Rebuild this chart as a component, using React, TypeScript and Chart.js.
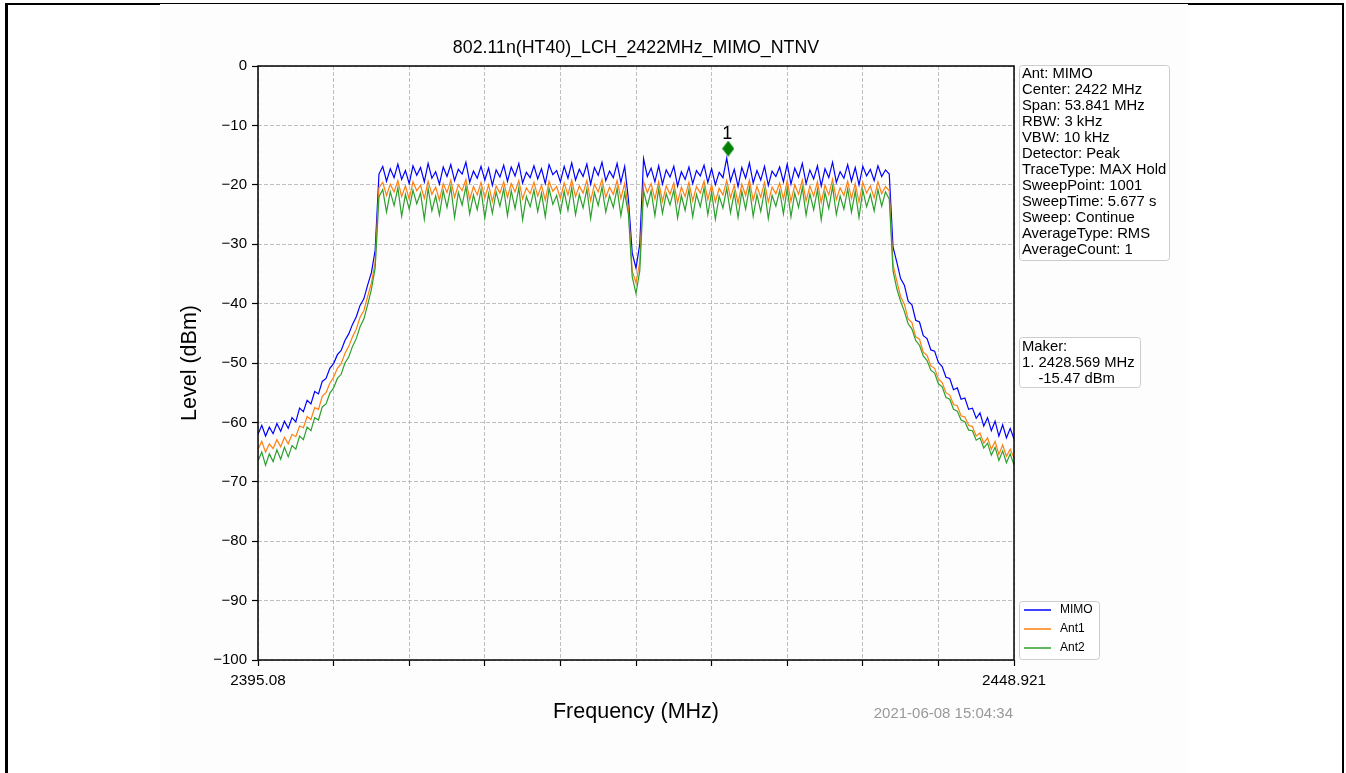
import { useEffect, useRef } from 'react';
import { Chart, registerables } from 'chart.js';

Chart.register(...registerables);

const FONT_FAMILY = "'Liberation Sans', Arial, Helvetica, sans-serif";

const CHART_TITLE = '802.11n(HT40)_LCH_2422MHz_MIMO_NTNV';
const X_TITLE = 'Frequency (MHz)';
const Y_TITLE = 'Level (dBm)';
const TIMESTAMP = '2021-06-08 15:04:34';

const FREQ_START = 2395.08;
const FREQ_STOP = 2448.921;
const X_DIVISIONS = 10;
const X_TICK_LABELS = ['2395.08', '2448.921'];
const Y_MIN = -100;
const Y_MAX = 0;
const Y_STEP = 10;

const SERIES_NAMES = ['MIMO', 'Ant1', 'Ant2'];
const SERIES_COLORS = ['#0000ff', '#ff7f0e', '#2ca02c'];

// Levels (dBm), evenly spaced across the sweep span
const MIMO_LEVELS = [
  // left skirt
  -62.0, -60.5, -62.3, -60.8, -61.9, -60.2, -61.5, -59.8, -61.0, -59.2,
  -59.9, -57.6, -58.2, -56.3, -56.9, -54.8, -55.2, -53.1, -52.6, -50.9,
  -50.1, -48.6, -47.9, -46.2, -45.1, -43.5, -42.2, -40.3, -39.2, -36.9,
  -34.8, -31.0,
  // left half of channel
  -18.2, -16.9, -19.4, -17.3, -18.8, -16.5, -19.1, -17.6, -19.8, -16.8,
  -18.4, -17.1, -19.5, -16.4, -18.9, -17.8, -19.9, -17.0, -18.6, -16.6,
  -19.3, -17.4, -18.2, -16.2, -19.6, -17.7, -18.9, -16.9, -19.2, -17.2,
  -20.1, -17.5, -18.7, -16.7, -19.4, -17.0, -18.5, -16.4, -19.7, -17.9,
  -18.8, -16.8, -19.0, -17.3, -19.8, -16.6, -18.3, -17.6, -19.5, -16.9,
  -18.9, -16.3, -19.2, -17.4, -18.6, -16.5, -19.9, -17.1, -18.4, -16.2,
  -19.3, -17.7, -18.8, -16.4, -19.6, -16.9,
  // centre dip
  -22.5, -31.5, -34.0, -30.0, -15.6,
  // right half of channel
  -18.6, -17.2, -19.5, -16.8, -19.9, -17.5, -18.7, -16.9, -20.2, -17.8,
  -19.1, -17.0, -19.8, -17.6, -18.5, -16.7, -19.6, -17.3, -20.0, -17.9,
  -18.8, -15.5, -19.4, -17.4, -20.3, -17.1, -18.9, -16.3, -19.7, -17.6,
  -19.2, -16.9, -20.1, -17.7, -18.6, -17.0, -19.5, -16.5, -19.9, -17.2,
  -18.7, -16.4, -19.8, -17.5, -19.0, -16.8, -20.2, -17.3, -18.8, -16.2,
  -19.6, -17.8, -18.9, -16.6, -19.4, -17.1, -20.0, -16.9, -18.5, -17.4,
  -19.3, -16.8, -18.6, -17.5, -18.2,
  // right skirt
  -30.5, -33.0, -35.8, -36.9, -39.6, -40.2, -42.8, -43.1, -45.4, -45.9,
  -47.8, -48.0, -49.9, -50.6, -52.4, -52.6, -54.5, -54.2, -56.1, -55.9,
  -57.8, -57.6, -59.3, -58.4, -60.6, -59.2, -61.4, -59.8, -62.3, -60.4,
  -62.6, -61.0, -62.8,
];

const ANT1_LEVELS = [
  -64.5, -63.2, -65.0, -63.6, -64.4, -62.9, -64.1, -62.5, -63.6, -62.0,
  -62.4, -60.6, -60.9, -59.0, -59.5, -57.5, -57.8, -55.6, -55.0, -53.4,
  -52.4, -50.9, -50.1, -48.4, -47.2, -45.6, -44.3, -42.3, -41.2, -38.8,
  -36.5, -33.0,
  -20.5, -19.6, -21.8, -19.9, -21.2, -19.3, -22.0, -20.2, -22.4, -19.5,
  -21.0, -20.1, -22.3, -19.4, -21.6, -20.4, -22.6, -19.8, -21.3, -19.2,
  -22.1, -20.0, -21.0, -19.1, -22.5, -20.3, -21.7, -19.6, -22.2, -20.0,
  -22.8, -20.2, -21.4, -19.5, -22.1, -19.8, -21.2, -19.3, -22.4, -20.5,
  -21.5, -19.6, -21.9, -20.1, -22.6, -19.4, -21.1, -20.3, -22.3, -19.7,
  -21.7, -19.2, -22.0, -20.2, -21.4, -19.3, -22.7, -19.9, -21.2, -19.1,
  -22.1, -20.4, -21.6, -19.3, -22.3, -19.8,
  -24.0, -34.5, -36.5, -33.0, -19.5,
  -21.3, -19.8, -22.4, -19.5, -22.8, -20.2, -21.6, -19.7, -23.0, -20.4,
  -22.0, -19.6, -22.7, -20.3, -21.4, -19.4, -22.5, -20.0, -22.9, -20.6,
  -21.7, -19.3, -22.2, -20.1, -23.1, -19.9, -21.8, -19.2, -22.6, -20.3,
  -22.1, -19.6, -22.9, -20.4, -21.5, -19.7, -22.4, -19.3, -22.8, -20.0,
  -21.6, -19.2, -22.7, -20.2, -21.9, -19.5, -23.0, -20.1, -21.7, -19.1,
  -22.5, -20.5, -21.8, -19.4, -22.3, -19.8, -22.9, -19.6, -21.4, -20.2,
  -22.2, -19.5, -21.5, -20.3, -21.0,
  -33.5, -36.2, -38.8, -40.1, -42.6, -43.2, -45.6, -46.0, -48.2, -48.7,
  -50.5, -50.9, -52.7, -53.3, -55.0, -55.4, -57.0, -57.2, -58.9, -59.1,
  -60.5, -60.7, -62.3, -61.8, -63.5, -62.6, -64.5, -63.2, -65.4, -63.8,
  -65.7, -64.5, -66.0,
];

const ANT2_LEVELS = [
  -66.5, -65.0, -67.2, -65.3, -66.6, -64.6, -66.2, -64.2, -65.8, -63.9,
  -64.5, -62.3, -62.9, -60.8, -61.4, -59.2, -59.6, -57.4, -56.9, -55.1,
  -54.2, -52.6, -51.9, -50.0, -49.0, -47.2, -45.9, -43.9, -42.6, -40.2,
  -37.6, -34.0,
  -22.0, -20.8, -24.6, -21.2, -23.5, -20.5, -25.3, -21.6, -24.1, -20.9,
  -23.2, -21.4, -25.8, -20.6, -24.4, -21.9, -25.1, -21.0, -23.8, -20.4,
  -25.5, -21.3, -23.4, -20.3, -24.9, -21.7, -24.2, -20.8, -25.6, -21.5,
  -24.8, -21.2, -23.6, -20.7, -25.2, -21.0, -24.0, -20.5, -25.9, -22.0,
  -23.7, -20.9, -24.5, -21.4, -25.4, -20.6, -23.3, -21.8, -24.7, -21.1,
  -24.3, -20.5, -25.0, -21.6, -23.9, -20.7, -25.7, -21.3, -23.5, -20.4,
  -24.6, -21.8, -23.8, -20.6, -25.2, -21.4,
  -25.0, -35.5, -38.3, -34.5, -21.0,
  -23.6, -21.0, -25.2, -20.7, -24.8, -21.5, -23.4, -20.9, -25.6, -21.8,
  -24.3, -20.8, -25.4, -21.6, -23.7, -20.5, -25.0, -21.2, -25.8, -21.9,
  -23.9, -20.6, -24.7, -21.3, -25.5, -21.1, -24.1, -20.4, -25.3, -21.7,
  -24.5, -20.9, -25.7, -21.8, -23.6, -21.0, -24.9, -20.6, -25.4, -21.4,
  -23.8, -20.5, -25.1, -21.5, -24.2, -20.8, -25.9, -21.3, -24.0, -20.3,
  -25.0, -21.9, -24.1, -20.7, -24.6, -21.1, -25.5, -20.9, -23.7, -21.6,
  -24.4, -20.8, -23.6, -21.2, -22.4,
  -34.5, -37.5, -39.6, -41.3, -43.4, -44.3, -46.2, -47.0, -48.8, -49.6,
  -51.2, -51.7, -53.5, -54.0, -55.8, -56.1, -57.8, -58.1, -59.6, -59.9,
  -61.3, -61.4, -63.0, -62.6, -64.3, -63.5, -65.5, -64.2, -66.4, -64.8,
  -66.8, -65.3, -67.2,
];

const MARKER_FREQ = 2428.569;
const MARKER_PLOT_LEVEL = -13.9;
const MARKER_LABEL = '1';
const MARKER_COLOR = '#008000';

const INFO_LINES = [
  'Ant: MIMO',
  'Center: 2422 MHz',
  'Span: 53.841 MHz',
  'RBW: 3 kHz',
  'VBW: 10 kHz',
  'Detector: Peak',
  'TraceType: MAX Hold',
  'SweepPoint: 1001',
  'SweepTime: 5.677 s',
  'Sweep: Continue',
  'AverageType: RMS',
  'AverageCount: 1',
];
const MAKER_LINES = ['Maker:', '1. 2428.569 MHz', '    -15.47 dBm'];

const CANVAS_W = 1028;
const CANVAS_H = 769;

function toPoints(levels: number[]) {
  const step = (FREQ_STOP - FREQ_START) / (levels.length - 1);
  return levels.map((y, i) => ({ x: FREQ_START + i * step, y }));
}

function roundRect(ctx: CanvasRenderingContext2D, x: number, y: number, w: number, h: number, r: number) {
  ctx.beginPath();
  ctx.moveTo(x + r, y);
  ctx.lineTo(x + w - r, y);
  ctx.arcTo(x + w, y, x + w, y + r, r);
  ctx.lineTo(x + w, y + h - r);
  ctx.arcTo(x + w, y + h, x + w - r, y + h, r);
  ctx.lineTo(x + r, y + h);
  ctx.arcTo(x, y + h, x, y + h - r, r);
  ctx.lineTo(x, y + r);
  ctx.arcTo(x, y, x + r, y, r);
  ctx.closePath();
}

const decorPlugin = {
  id: 'decor',
  afterDatasetsDraw(chart: any) {
    const { ctx, chartArea: ca, scales } = chart;
    ctx.save();
    // spines
    ctx.strokeStyle = '#000';
    ctx.lineWidth = 1.5;
    ctx.strokeRect(ca.left, ca.top, ca.right - ca.left, ca.bottom - ca.top);
    // marker label
    const mx = scales.x.getPixelForValue(MARKER_FREQ);
    const my = scales.y.getPixelForValue(MARKER_PLOT_LEVEL);
    ctx.fillStyle = '#000';
    ctx.font = `18px ${FONT_FAMILY}`;
    ctx.textAlign = 'center';
    ctx.textBaseline = 'middle';
    ctx.fillText(MARKER_LABEL, mx - 1, my - 15);
    ctx.restore();
  },
  afterDraw(chart: any) {
    const { ctx, chartArea: ca } = chart;
    ctx.save();
    // title
    ctx.fillStyle = '#000';
    ctx.font = `17.8px ${FONT_FAMILY}`;
    ctx.textAlign = 'center';
    ctx.textBaseline = 'middle';
    ctx.fillText(CHART_TITLE, (ca.left + ca.right) / 2, ca.top - 18);

    const bx = ca.right + 5;
    // info box
    ctx.lineWidth = 1;
    ctx.strokeStyle = '#cccccc';
    ctx.fillStyle = 'rgba(255,255,255,0.85)';
    roundRect(ctx, bx + 0.5, ca.top - 0.5, 150, 195, 3);
    ctx.fill();
    ctx.stroke();
    ctx.fillStyle = '#000';
    ctx.font = `14.8px ${FONT_FAMILY}`;
    ctx.textAlign = 'left';
    ctx.textBaseline = 'middle';
    INFO_LINES.forEach((line, i) => ctx.fillText(line, bx + 3, ca.top + 8 + i * 16));

    // maker box
    const my0 = ca.top + 271;
    ctx.fillStyle = 'rgba(255,255,255,0.85)';
    roundRect(ctx, bx + 0.5, my0 + 0.5, 121, 50, 3);
    ctx.fill();
    ctx.stroke();
    ctx.fillStyle = '#000';
    MAKER_LINES.forEach((line, i) => ctx.fillText(line, bx + 3, my0 + 10 + i * 16));

    // legend
    const ly0 = ca.bottom - 59;
    ctx.fillStyle = 'rgba(255,255,255,0.85)';
    roundRect(ctx, bx + 0.5, ly0 + 0.5, 80, 58, 3);
    ctx.fill();
    ctx.stroke();
    ctx.font = `12px ${FONT_FAMILY}`;
    SERIES_NAMES.forEach((name, i) => {
      const y = ly0 + 9 + i * 19;
      ctx.strokeStyle = SERIES_COLORS[i];
      ctx.lineWidth = 1.5;
      ctx.beginPath();
      ctx.moveTo(bx + 5, y);
      ctx.lineTo(bx + 32, y);
      ctx.stroke();
      ctx.fillStyle = '#000';
      ctx.fillText(name, bx + 41, y);
    });

    // timestamp
    ctx.fillStyle = '#999999';
    ctx.font = `15px ${FONT_FAMILY}`;
    ctx.textAlign = 'right';
    ctx.fillText(TIMESTAMP, ca.right - 1, ca.bottom + 54);
    ctx.restore();
  },
};

export default function App() {
  const canvasRef = useRef<HTMLCanvasElement | null>(null);

  useEffect(() => {
    const canvas = canvasRef.current;
    if (!canvas) return;

    const diamond = document.createElement('canvas');
    diamond.width = 12;
    diamond.height = 16;
    const dctx = diamond.getContext('2d')!;
    dctx.fillStyle = MARKER_COLOR;
    dctx.beginPath();
    dctx.moveTo(6, 0);
    dctx.lineTo(12, 8);
    dctx.lineTo(6, 16);
    dctx.lineTo(0, 8);
    dctx.closePath();
    dctx.fill();

    const xTicks: number[] = [];
    for (let k = 0; k <= X_DIVISIONS; k++) {
      xTicks.push(FREQ_START + (k * (FREQ_STOP - FREQ_START)) / X_DIVISIONS);
    }

    const series = [MIMO_LEVELS, ANT1_LEVELS, ANT2_LEVELS];
    const gridCommon = {
      color: '#b0b0b0',
      lineWidth: 0.8,
      tickLength: 6,
      tickColor: '#000',
      tickWidth: 1.2,
      tickBorderDash: [],
    };

    const chart = new Chart(canvas, {
      type: 'line',
      data: {
        datasets: [
          ...series.map((levels, i) => ({
            label: SERIES_NAMES[i],
            data: toPoints(levels),
            borderColor: SERIES_COLORS[i],
            backgroundColor: SERIES_COLORS[i],
            borderWidth: 1.2,
            pointRadius: 0,
            tension: 0,
            fill: false,
            order: 3 - i,
          })),
          {
            label: 'marker',
            data: [{ x: MARKER_FREQ, y: MARKER_PLOT_LEVEL }],
            showLine: false,
            pointStyle: diamond as any,
            pointRadius: 6,
            borderColor: MARKER_COLOR,
            backgroundColor: MARKER_COLOR,
            order: 0,
          },
        ] as any,
      },
      options: {
        animation: false,
        responsive: false,
        devicePixelRatio: 1,
        events: [],
        layout: { padding: { top: 62, right: 174, bottom: 0, left: 0 } },
        plugins: {
          legend: { display: false },
          title: { display: false },
          tooltip: { enabled: false },
        },
        scales: {
          x: {
            type: 'linear',
            min: FREQ_START,
            max: FREQ_STOP,
            afterBuildTicks: (scale: any) => {
              scale.ticks = xTicks.map((v) => ({ value: v }));
            },
            afterFit: (scale: any) => {
              scale.height = 113;
            },
            ticks: {
              autoSkip: false,
              maxRotation: 0,
              padding: 6,
              color: '#000',
              font: { size: 15.3, family: FONT_FAMILY },
              callback: (_v: any, i: number) =>
                i === 0 ? X_TICK_LABELS[0] : i === X_DIVISIONS ? X_TICK_LABELS[1] : '',
            },
            grid: gridCommon as any,
            border: { display: false, dash: [4, 2] },
            title: {
              display: true,
              text: X_TITLE,
              color: '#000',
              font: { size: 21.5, family: FONT_FAMILY },
              padding: { top: 0, bottom: 48 },
            },
          },
          y: {
            type: 'linear',
            min: Y_MIN,
            max: Y_MAX,
            afterFit: (scale: any) => {
              scale.width = 98;
            },
            ticks: {
              stepSize: Y_STEP,
              padding: 5,
              color: '#000',
              font: { size: 15, family: FONT_FAMILY },
              callback: (v: any) => (Number(v) < 0 ? '\u2212' + Math.abs(Number(v)) : String(v)),
            },
            grid: gridCommon as any,
            border: { display: false, dash: [4, 2] },
            title: {
              display: true,
              text: Y_TITLE,
              color: '#000',
              font: { size: 21.5, family: FONT_FAMILY },
              padding: { top: 17, bottom: 0 },
            },
          },
        },
      } as any,
      plugins: [decorPlugin],
    });

    return () => chart.destroy();
  }, []);

  return (
    <div
      style={{
        position: 'fixed',
        left: 0,
        top: 0,
        width: 1346,
        height: 773,
        background: '#ffffff',
        overflow: 'hidden',
      }}
    >
      <div style={{ position: 'absolute', left: 5, top: 3, width: 1339, height: 2, background: '#000' }} />
      <div style={{ position: 'absolute', left: 5, top: 3, width: 3, height: 780, background: '#000' }} />
      <div style={{ position: 'absolute', left: 1342, top: 3, width: 2, height: 780, background: '#000' }} />
      <div
        style={{
          position: 'absolute',
          left: 160,
          top: 4,
          width: CANVAS_W,
          height: CANVAS_H,
          background: '#fdfdfd',
        }}
      >
        <canvas ref={canvasRef} width={CANVAS_W} height={CANVAS_H} style={{ display: 'block' }} />
      </div>
    </div>
  );
}
